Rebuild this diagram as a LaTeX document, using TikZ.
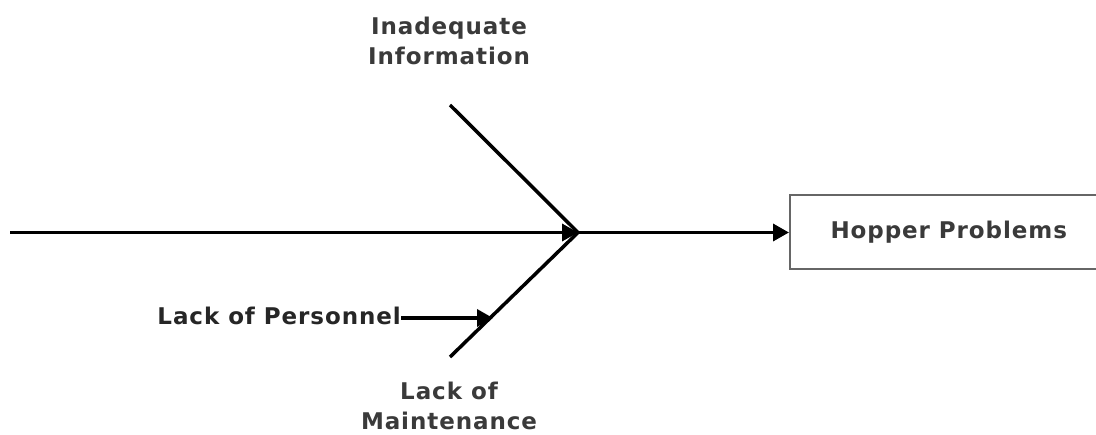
\documentclass[tikz,border=0pt]{standalone}
\usepackage{fontspec}
\setmainfont{DejaVu Sans}[LetterSpace=4]
\usetikzlibrary{arrows.meta}
\definecolor{labelgray}{HTML}{3A3A3A}
\definecolor{boxgray}{HTML}{666666}
\begin{document}
\begin{tikzpicture}[x=1pt,y=-1pt,
  lbl/.style={font=\bfseries\fontsize{23}{30}\selectfont, text=labelgray, inner sep=0pt, align=center},
  bone/.style={line width=3.5pt, black},
  tip/.style={-{Triangle[length=16pt,width=17pt]}},
  effect/.style={draw=boxgray, line width=1.5pt, minimum width=318pt, minimum height=74pt,
    font=\bfseries\fontsize{23}{24}\selectfont, text=labelgray}]
\useasboundingbox (0,0) rectangle (1096,435);
\clip (0,0) rectangle (1096,435);

% effect box, cut by the right edge
\node[effect, anchor=west] (hopper) at (789,232) {Hopper Problems};

% cause labels (base anchor sits on the last line)
\node[lbl, anchor=base] (info) at (449,65) {Inadequate\\Information};
\node[lbl, anchor=base] (maint) at (449,430) {Lack of\\Maintenance};
\node[lbl, anchor=base east, text=black!85] (pers) at (401,325) {Lack of Personnel};

% spine and bones
\coordinate (tail) at (10,232.5);
\coordinate (head) at (578,232.5);
\coordinate (infoend) at (450,105);
\coordinate (maintend) at (450,357);
\coordinate (perstip) at (493,318);

\draw[bone] (infoend) -- (head);
\draw[bone] (maintend) -- (head);
\draw[bone, tip] (tail) -- (head);
\draw[bone, tip] (head) -- (hopper.west |- head);
\draw[bone, tip] (pers.east |- perstip) -- (perstip);
\end{tikzpicture}
\end{document}
